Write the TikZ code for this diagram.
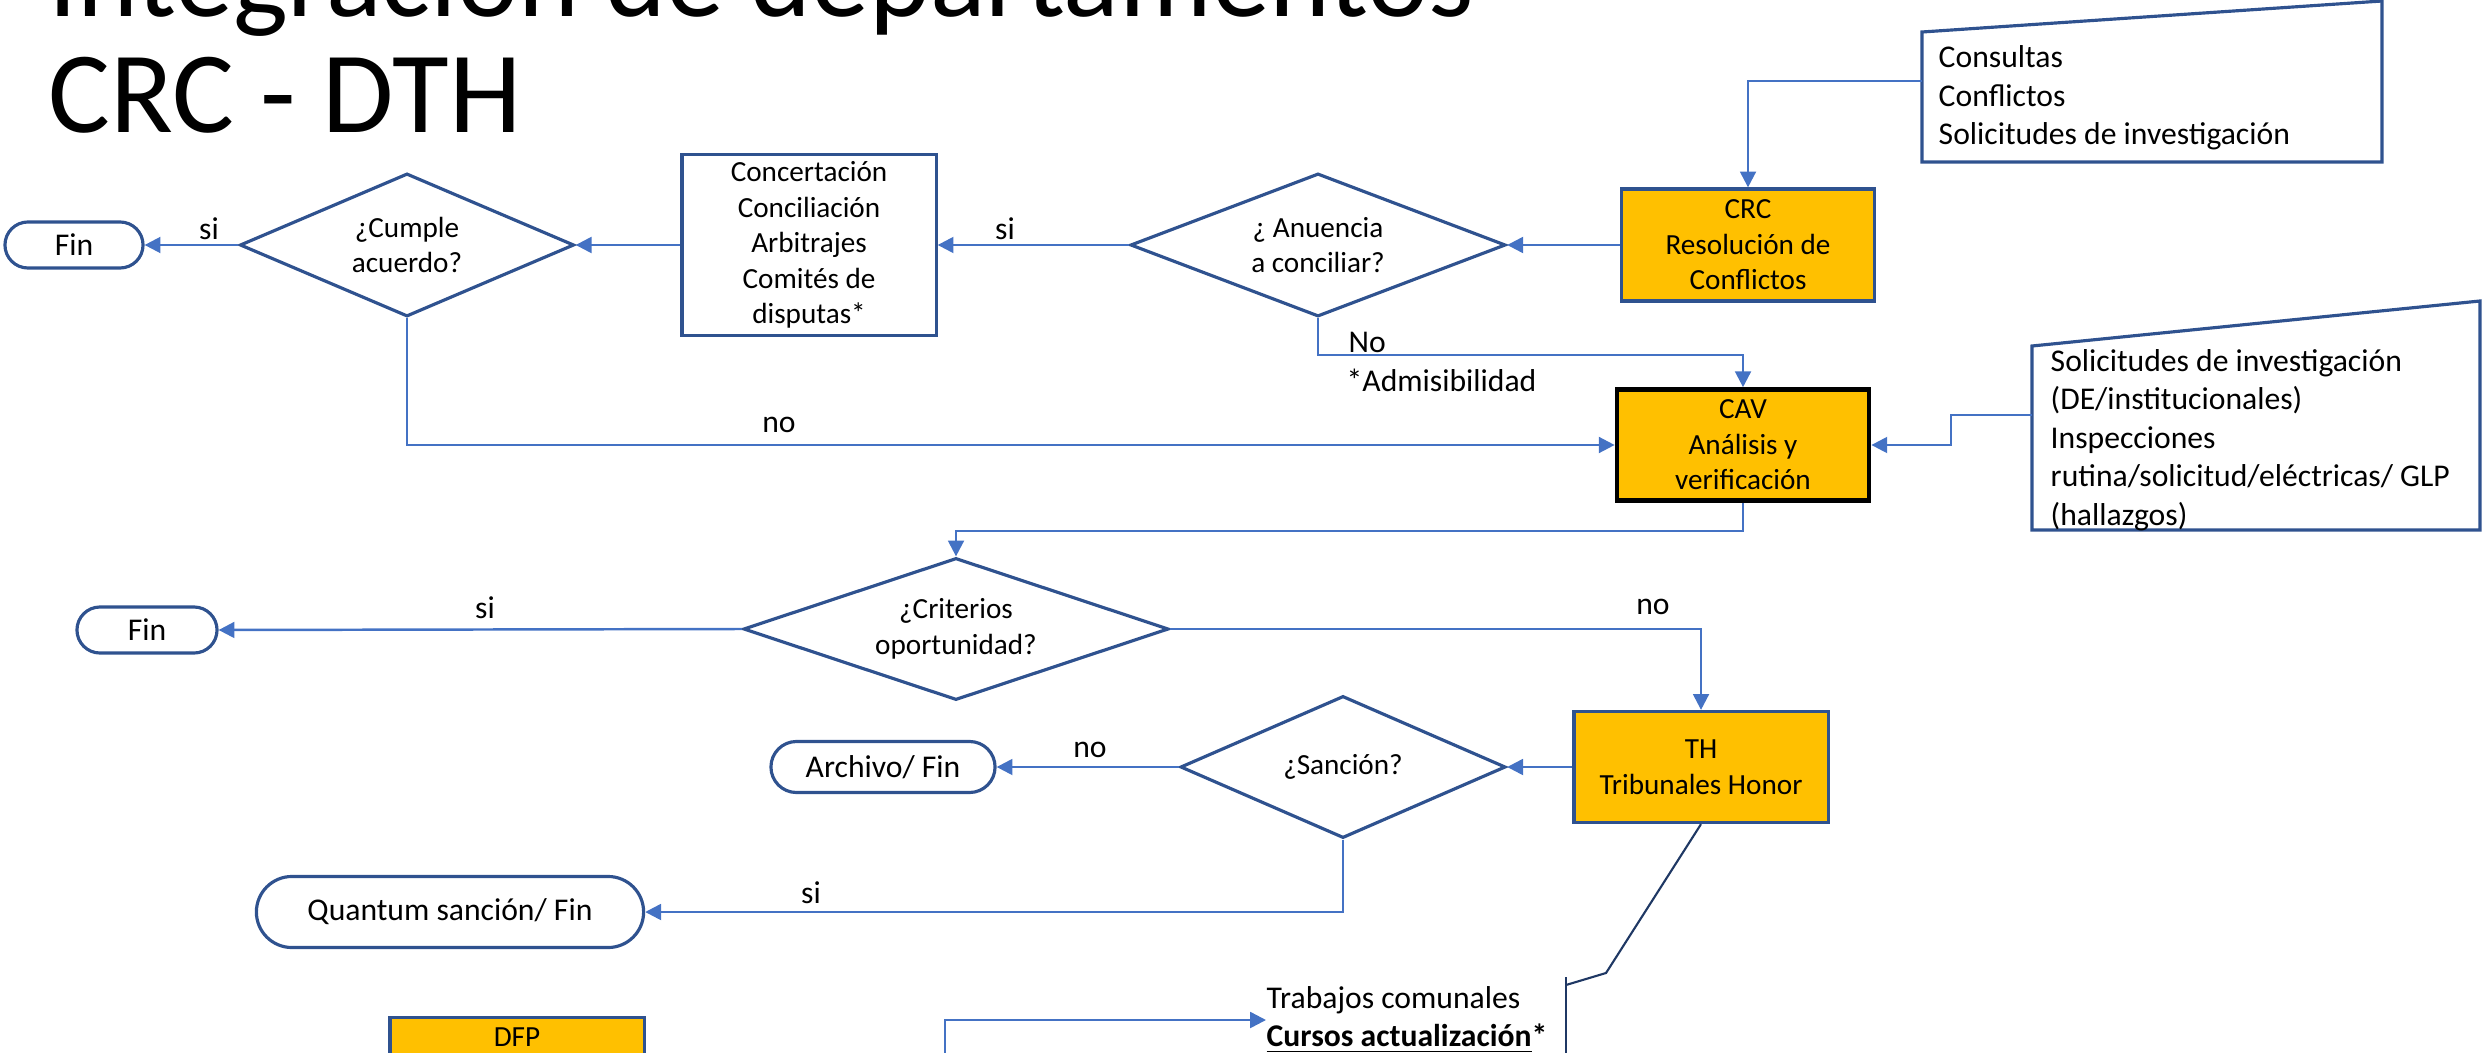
\documentclass[tikz,border=0pt]{standalone}
\usepackage{fontspec}
\setmainfont{Carlito}
\usetikzlibrary{shapes.geometric,shapes.misc,arrows.meta}
\definecolor{linea}{HTML}{4472C4}
\definecolor{borde}{HTML}{2F528F}
\definecolor{naranja}{HTML}{FFC000}
\definecolor{marino}{HTML}{1F3864}
\begin{document}
\begin{tikzpicture}[x=0.01cm, y=-0.01cm,
    caja/.style={draw=borde, line width=0.9pt, align=center, inner sep=0pt,
      font=\fontsize{8.3}{10.1}\selectfont},
    naranjo/.style={caja, fill=naranja, minimum width=2.53cm, minimum height=1.12cm},
    decision/.style={caja, diamond, aspect=2.5},
    fin/.style={caja, rounded rectangle, font=\fontsize{9}{11}\selectfont},
    flecha/.style={draw=linea, line width=0.7pt, -{Triangle[length=4.5pt,width=4.5pt]}},
    etiqueta/.style={inner sep=0pt, font=\fontsize{9}{11}\selectfont},
    nota/.style={inner sep=0pt, anchor=west, align=left, font=\fontsize{9}{10.95}\selectfont}]
  \useasboundingbox (0,0) rectangle (2483,1052);
  \clip (0,0) rectangle (2483,1052);
  %\draw[help lines, step=100] (0,0) grid (2483,1052);

  % titulo
  \node[anchor=base west, inner sep=0pt, font=\fontsize{33}{33}\selectfont] (titulo1) at (48,17) {Integración de departamentos};
  \node[anchor=base west, inner sep=0pt, font=\fontsize{33}{33}\selectfont] (titulo2) at (48,133) {CRC - DTH};

  % fila CRC
  \node[fin, minimum width=1.38cm, minimum height=0.46cm] (fin1) at (74,245) {Fin};
  \node[decision, minimum width=3.34cm, minimum height=1.43cm] (cumple) at (407,245) {¿Cumple\\acuerdo?};
  \node[caja, minimum width=2.54cm, minimum height=1.81cm] (concert) at (809,245) {Concertación\\Conciliación\\Arbitrajes\\Comités de\\disputas*};
  \node[decision, minimum width=3.75cm, minimum height=1.43cm] (anuencia) at (1318,245) {¿ Anuencia\\a conciliar?};
  \node[naranjo] (crc) at (1748,245) {CRC\\Resolución de\\Conflictos};
  \node[etiqueta] (si1) at (209,229) {si};
  \node[etiqueta] (si2) at (1005,229) {si};

  \draw[borde, line width=0.9pt] (1922,162) -- (1922,32) -- (2382,1) -- (2382,162) -- cycle;
  \node[nota] (consultas) at (1938,98) {Consultas\\Conflictos\\Solicitudes de investigación};
  \coordinate (c1in) at (1922,81);

  \draw[flecha] (c1in) -| (crc.north);
  \draw[flecha] (crc.west) -- (anuencia.east);
  \draw[flecha] (anuencia.west) -- (concert.east);
  \draw[flecha] (concert.west) -- (cumple.east);
  \draw[flecha] (cumple.west) -- (fin1.east);

  % CAV
  \node[naranjo, draw=black, line width=1.3pt, minimum width=2.52cm, minimum height=1.11cm] (cav) at (1743,445) {CAV\\Análisis y\\verificación};
  \node[etiqueta, anchor=west] (no1) at (1348,342) {No};
  \node[etiqueta, anchor=west] (admis) at (1346,380) {*Admisibilidad};
  \node[etiqueta] (no2) at (779,425) {no};
  \draw[flecha] (anuencia.south) -- ++(0,37) -| (cav.north);
  \draw[flecha] (cumple.south) |- (cav.west);

  \draw[borde, line width=0.9pt] (2032,530) -- (2032,346) -- (2480,301) -- (2480,530) -- cycle;
  \node[nota] (solicitudes) at (2050,440) {Solicitudes de investigación\\(DE/institucionales)\\Inspecciones\\rutina/solicitud/eléctricas/ GLP\\(hallazgos)};
  \coordinate (c2in) at (2032,415);
  \draw[flecha] (c2in) -- ++(-81,0) |- (cav.east);

  % criterios y TH
  \node[decision, minimum width=4.25cm, minimum height=1.42cm] (criterios) at (956,629) {¿Criterios\\oportunidad?};
  \node[fin, minimum width=1.40cm, minimum height=0.46cm] (fin2) at (147,630) {Fin};
  \node[etiqueta] (si3) at (485,608) {si};
  \node[etiqueta] (no3) at (1653,607) {no};
  \draw[flecha] (cav.south) -- ++(0,28) -| (criterios.north);
  \draw[flecha] (criterios.west) -- (fin2.east);

  \node[naranjo, minimum width=2.54cm, minimum height=1.11cm] (th) at (1701,767) {TH\\Tribunales Honor};
  \draw[flecha] (criterios.east) -| (th.north);

  \node[decision, minimum width=3.25cm, minimum height=1.42cm] (sancion) at (1343,767) {¿Sanción?};
  \node[fin, minimum width=2.24cm, minimum height=0.51cm] (archivo) at (883,767) {Archivo/ Fin};
  \node[fin, minimum width=3.87cm, minimum height=0.71cm] (quantum) at (450,912) {Quantum sanción/ Fin};
  \node[etiqueta] (no4) at (1090,750) {no};
  \node[etiqueta] (si4) at (811,893) {si};
  \draw[flecha] (th.west) -- (sancion.east);
  \draw[flecha] (sancion.west) -- (archivo.east);
  \draw[flecha] (sancion.south) |- (quantum.east);

  % DFP y medidas
  \node[naranjo, anchor=north, minimum width=2.54cm, minimum height=1.11cm] (dfp) at (517,1016) {};
  \node[inner sep=0pt, font=\fontsize{8.3}{10.1}\selectfont] (dfptxt) at (517,1037) {DFP};
  \node[nota] (medidas) at (1266,1020) {Trabajos comunales\\\textbf{\underline{Cursos actualización}*}};
  \coordinate (dfpout) at (945,1100);
  \draw[flecha] (dfpout) |- (medidas.west);

  \draw[marino, line width=0.6pt] (1566,977) -- (1566,1100);
  \draw[marino, line width=0.6pt] (1566,985) -- (1606,973) -- (th.south);
\end{tikzpicture}
\end{document}
